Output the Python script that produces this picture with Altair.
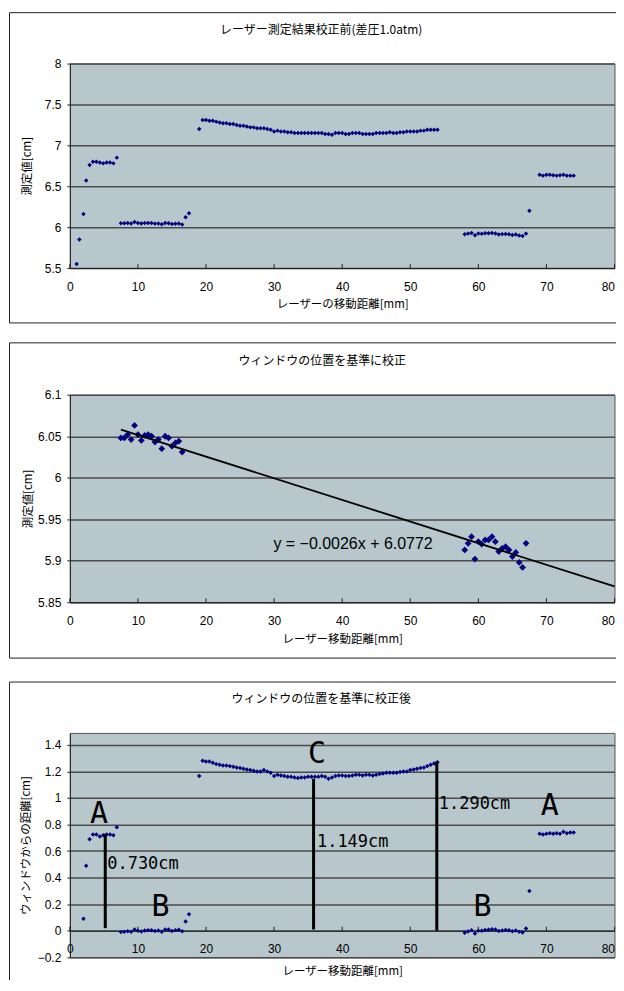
import altair as alt
import pandas as pd

# ---------------- Panel 1 : raw measurement (before calibration) ----------------
X_A = [1.0, 1.4, 2.0, 2.4, 2.9, 3.4, 3.9, 4.4, 4.9, 5.4, 5.9, 6.4, 6.9]
V_A = [5.55, 5.85, 6.16, 6.57, 6.76, 6.80, 6.80, 6.79, 6.78, 6.79, 6.79, 6.78, 6.85]

X_WIN_L = [7.5, 8.0, 8.5, 9.0, 9.5, 10.0, 10.5, 11.0, 11.5, 12.0,
           12.5, 13.0, 13.5, 14.0, 14.5, 15.0, 15.5, 16.0, 16.5]
V_WIN_L = [6.048, 6.048, 6.052, 6.046, 6.063, 6.052, 6.045, 6.051, 6.052, 6.050,
           6.043, 6.046, 6.035, 6.050, 6.048, 6.038, 6.042, 6.044, 6.031]

X_R1 = [17.0, 17.5]
V_R1 = [6.12, 6.17]

X_C = [19.0,
       19.5, 20.0, 20.5, 21.0, 21.5, 22.0, 22.5, 23.0, 23.5, 24.0,
       24.5, 25.0, 25.5, 26.0, 26.5, 27.0, 27.5, 28.0, 28.5, 29.0,
       29.5, 30.0, 30.5, 31.0, 31.5, 32.0, 32.5, 33.0, 33.5, 34.0,
       34.5, 35.0, 35.5, 36.0, 36.5, 37.0, 37.5, 38.0, 38.5, 39.0,
       39.5, 40.0, 40.5, 41.0, 41.5, 42.0, 42.5, 43.0, 43.5, 44.0,
       44.5, 45.0, 45.5, 46.0, 46.5, 47.0, 47.5, 48.0, 48.5, 49.0,
       49.5, 50.0, 50.5, 51.0, 51.5, 52.0, 52.5, 53.0, 53.5, 54.0]
V_C = [7.20,
       7.31, 7.31, 7.30, 7.30, 7.29, 7.28, 7.27, 7.27, 7.26, 7.26,
       7.25, 7.24, 7.24, 7.23, 7.22, 7.22, 7.21, 7.21, 7.21, 7.20,
       7.19, 7.17, 7.18, 7.17, 7.17, 7.16, 7.16, 7.15, 7.15, 7.15,
       7.15, 7.15, 7.15, 7.15, 7.15, 7.15, 7.14, 7.14, 7.13, 7.15,
       7.15, 7.15, 7.14, 7.14, 7.15, 7.15, 7.15, 7.14, 7.14, 7.14,
       7.14, 7.15, 7.15, 7.15, 7.15, 7.16, 7.15, 7.15, 7.16, 7.16,
       7.17, 7.17, 7.17, 7.17, 7.18, 7.18, 7.19, 7.19, 7.19, 7.19]

X_WIN_R = [58.0, 58.5, 59.0, 59.5, 60.0, 60.5, 61.0, 61.5, 62.0, 62.5,
           63.0, 63.5, 64.0, 64.5, 65.0, 65.5, 66.0, 66.5, 67.0]
V_WIN_R = [5.913, 5.921, 5.929, 5.902, 5.923, 5.920, 5.925, 5.925, 5.929, 5.923,
           5.911, 5.915, 5.917, 5.913, 5.905, 5.910, 5.898, 5.892, 5.921]

X_R2 = [67.5]
V_R2 = [6.20]

X_E = [69.0, 69.5, 70.0, 70.5, 71.0, 71.5, 72.0, 72.5, 73.0, 73.5, 74.0]
V_E = [6.64, 6.63, 6.64, 6.64, 6.635, 6.63, 6.635, 6.64, 6.63, 6.63, 6.63]

# ---------------- Panel 2 : window data + trend line ----------------
TREND_X = [7.5, 80.0]
TREND_Y = [6.058, 5.869]
EQ_TEXT = "y = \u22120.0026x + 6.0772"
EQ_X, EQ_Y = 41.6, 5.92

# ---------------- Panel 3 : after calibration ----------------
X3_A = [2.0, 2.4, 2.9, 3.4, 3.9, 4.4, 4.9, 5.4, 5.9, 6.4, 6.9]
V3_A = [0.09, 0.49, 0.69, 0.725, 0.725, 0.71, 0.72, 0.725, 0.725, 0.72, 0.78]

X3_B1 = [7.5, 8.0, 8.5, 9.0, 9.5, 10.0, 10.5, 11.0, 11.5, 12.0,
         12.5, 13.0, 13.5, 14.0, 14.5, 15.0, 15.5, 16.0, 16.5, 17.0, 17.5]
V3_B1 = [-0.010, -0.008, -0.004, -0.008, 0.010, 0.001, -0.005, 0.002, 0.005, 0.004,
         -0.002, 0.003, -0.007, 0.009, 0.009, -0.001, 0.005, 0.008, -0.003, 0.07, 0.125]

X3_C = X_C
V3_C = [1.165,
        1.28, 1.275, 1.275, 1.265, 1.255, 1.25, 1.245, 1.245, 1.24, 1.235,
        1.23, 1.225, 1.22, 1.215, 1.21, 1.205, 1.20, 1.20, 1.21, 1.20,
        1.19, 1.165, 1.175, 1.17, 1.165, 1.16, 1.16, 1.155, 1.15, 1.155,
        1.155, 1.16, 1.16, 1.16, 1.16, 1.165, 1.16, 1.145, 1.155, 1.165,
        1.17, 1.17, 1.165, 1.165, 1.17, 1.175, 1.175, 1.17, 1.175, 1.175,
        1.17, 1.175, 1.18, 1.185, 1.19, 1.19, 1.19, 1.19, 1.195, 1.20,
        1.20, 1.21, 1.215, 1.22, 1.225, 1.23, 1.24, 1.25, 1.26, 1.27]

X3_B2 = [58.0, 58.5, 59.0, 59.5, 60.0, 60.5, 61.0, 61.5, 62.0, 62.5,
         63.0, 63.5, 64.0, 64.5, 65.0, 65.5, 66.0, 66.5, 67.0, 67.5]
V3_B2 = [-0.014, -0.005, 0.005, -0.021, 0.001, 0.0, 0.006, 0.008, 0.012, 0.009,
         -0.002, 0.002, 0.006, 0.004, -0.003, 0.003, -0.008, -0.013, 0.018, 0.30]

X3_E = X_E
V3_E = [0.73, 0.725, 0.73, 0.735, 0.73, 0.735, 0.73, 0.745, 0.735, 0.74, 0.74]

LETTERS = ["A", "B", "C", "B", "A"]
LETTER_X = [4.3, 13.3, 36.3, 60.6, 70.5]
LETTER_Y = [0.88, 0.18, 1.33, 0.18, 0.94]

VAL_TEXT = ["0.730cm", "1.149cm", "1.290cm"]
VAL_X = [5.5, 36.3, 54.2]
VAL_Y = [0.50, 0.668, 0.956]

BAR_X = [5.2, 35.8, 53.9]
BAR_Y0 = [0.02, 0.01, 0.0]
BAR_Y1 = [0.73, 1.145, 1.275]

# ---------------- texts / ticks ----------------
TITLE1 = "レーザー測定結果校正前(差圧1.0atm)"
TITLE2 = "ウィンドウの位置を基準に校正"
TITLE3 = "ウィンドウの位置を基準に校正後"
XT1 = "レーザーの移動距離[mm]"
XT2 = "レーザー移動距離[mm]"
YT1 = "測定値[cm]"
YT3 = "ウィンドウからの距離[cm]"
X_TICKS = [0, 10, 20, 30, 40, 50, 60, 70, 80]
Y1_TICKS = [5.5, 6.0, 6.5, 7.0, 7.5, 8.0]
Y2_TICKS = [5.85, 5.9, 5.95, 6.0, 6.05, 6.1]
Y3_TICKS = [-0.2, 0.0, 0.2, 0.4, 0.6, 0.8, 1.0, 1.2, 1.4]

NAVY = "#000080"
BG = "#B8C7CB"
GRID = "#4a4a4a"
FRAME = "#222222"
JP = "Noto Sans CJK JP"
NUM = "Liberation Sans"
MONO = "DejaVu Sans Mono"

W = 546              # plot width shared by the three panels (origins align in a column)
H1, H2, H3 = 205, 208, 225
FR_L = -60.5         # outer frame left edge relative to the plot origin
FR_R = W + 12        # outer frame right edge (clipped by the page edge)


def df_from(pairs):
    xs, vs = [], []
    for a, b in pairs:
        xs += list(a)
        vs += list(b)
    return pd.DataFrame({"x": xs, "v": vs})


ONE = pd.DataFrame({"k": [0]})


def frame(top, bottom):
    return alt.Chart(ONE).mark_rect(fill="transparent", stroke=FRAME, strokeWidth=1).encode(
        x=alt.value(FR_L), x2=alt.value(FR_R), y=alt.value(top), y2=alt.value(bottom))


def title_text(text, x, y):
    return alt.Chart(ONE).mark_text(text=text, font=JP, fontSize=12, align="center",
                                    baseline="middle", color="black").encode(
        x=alt.value(x), y=alt.value(y))


def inner_ticks(ybase):
    return alt.Chart(pd.DataFrame({"t": X_TICKS})).mark_rule(color=FRAME, strokeWidth=1).encode(
        x=alt.X("t:Q", scale=XS), y=alt.value(ybase), y2=alt.value(ybase - 4))


LAST_LABEL_ALIGN = alt.condition("datum.value >= 80", alt.value("right"), alt.value("center"))


def x_axis(title, pad, title_y, offset=0):
    return alt.Axis(values=X_TICKS, format="d", title=title, grid=False, ticks=False,
                    tickSize=0, labelPadding=pad, labelFlush=False, labelOverlap=False,
                    labelAlign=LAST_LABEL_ALIGN,
                    titleY=title_y, titleBaseline="middle", offset=offset)


def y_axis(values, fmt, title, title_x, H):
    return alt.Axis(values=values, format=fmt, title=title, grid=True, ticks=True,
                    tickSize=3, tickColor=FRAME, labelPadding=6, titleX=title_x,
                    titleY=H / 2, titleAngle=270, titleAlign="center",
                    titleBaseline="middle", labelFlush=False, labelOverlap=False)


XS = alt.Scale(domain=[0, 80], nice=False)

# ---------------- Panel 1 ----------------
d1 = df_from([(X_A, V_A), (X_WIN_L, V_WIN_L), (X_R1, V_R1), (X_C, V_C),
              (X_WIN_R, V_WIN_R), (X_R2, V_R2), (X_E, V_E)])
X1 = alt.X("x:Q", scale=XS, axis=x_axis(XT1, 13, 37))
Y1 = alt.Y("v:Q", scale=alt.Scale(domain=[5.5, 8], nice=False, zero=False),
           axis=y_axis(Y1_TICKS, ".1~f", YT1, -42, H1))
pts1 = alt.Chart(d1).mark_point(shape="diamond", filled=True, size=20, color=NAVY,
                                opacity=1).encode(x=X1, y=Y1)
p1 = alt.layer(frame(-51, H1 + 55), pts1, inner_ticks(H1),
               title_text(TITLE1, 252, -34)).properties(width=W, height=H1)

# ---------------- Panel 2 ----------------
d2 = df_from([(X_WIN_L, V_WIN_L), (X_WIN_R, V_WIN_R)])
X2 = alt.X("x:Q", scale=XS, axis=x_axis(XT2, 13, 37))
Y2 = alt.Y("v:Q", scale=alt.Scale(domain=[5.85, 6.1], nice=False, zero=False),
           axis=y_axis(Y2_TICKS, ".2~f", YT1, -41, H2))
pts2 = alt.Chart(d2).mark_point(shape="diamond", filled=True, size=46, color=NAVY,
                                opacity=1).encode(x=X2, y=Y2)
trend = alt.Chart(pd.DataFrame({"x": TREND_X, "v": TREND_Y})).mark_line(
    color="black", strokeWidth=1.8).encode(x=X2, y=Y2)
eq = alt.Chart(pd.DataFrame({"x": [EQ_X], "v": [EQ_Y], "t": [EQ_TEXT]})).mark_text(
    font=NUM, fontSize=16, align="center", baseline="middle", color="black").encode(
    x=X2, y=Y2, text="t:N")
p2 = alt.layer(frame(-52, H2 + 56), pts2, trend, eq, inner_ticks(H2),
               title_text(TITLE2, 253, -34)).properties(width=W, height=H2)

# ---------------- Panel 3 ----------------
Y3_MIN, Y3_MAX = -0.2, 1.49
zero_off = H3 * (0 - Y3_MIN) / (Y3_MAX - Y3_MIN)
d3 = df_from([(X3_A, V3_A), (X3_B1, V3_B1), (X3_C, V3_C), (X3_B2, V3_B2), (X3_E, V3_E)])
X3 = alt.X("x:Q", scale=XS, axis=x_axis(XT2, 13, 41, offset=-zero_off))
Y3 = alt.Y("v:Q", scale=alt.Scale(domain=[Y3_MIN, Y3_MAX], nice=False, zero=False),
           axis=y_axis(Y3_TICKS, ".1~f", YT3, -43, H3))
pts3 = alt.Chart(d3).mark_point(shape="diamond", filled=True, size=20, color=NAVY,
                                opacity=1).encode(x=X3, y=Y3)
bars = alt.Chart(pd.DataFrame({"x": BAR_X, "v": BAR_Y0, "v2": BAR_Y1})).mark_rule(
    color="black", strokeWidth=3).encode(x=X3, y=Y3, y2="v2:Q")
letters = alt.Chart(pd.DataFrame({"x": LETTER_X, "v": LETTER_Y, "t": LETTERS})).mark_text(
    font=MONO, fontSize=30, align="center", baseline="middle", color="black").encode(
    x=X3, y=Y3, text="t:N")
vals = alt.Chart(pd.DataFrame({"x": VAL_X, "v": VAL_Y, "t": VAL_TEXT})).mark_text(
    font=MONO, fontSize=17, align="left", baseline="middle", color="black").encode(
    x=X3, y=Y3, text="t:N")
p3 = alt.layer(frame(-51, H3 + 60), pts3, bars, letters, vals, inner_ticks(H3 - zero_off),
               title_text(TITLE3, 252, -34)).properties(width=W, height=H3)

chart = alt.vconcat(alt.vconcat(p1, p2, spacing=18), p3, spacing=22).properties(
    padding={"left": 0, "top": 2.5, "right": -11.5, "bottom": -39.5}
).configure(background="white").configure_view(
    fill=BG, stroke="#555555", strokeWidth=1).configure_axis(
    labelFont=NUM, labelFontSize=12, labelColor="black", titleFont=JP,
    titleFontSize=11.5, titleFontWeight="normal", titleColor="black",
    domainColor=FRAME, gridColor=GRID, gridWidth=1.5)

chart.save("out.html", embed_options={"renderer": "svg", "actions": False})
